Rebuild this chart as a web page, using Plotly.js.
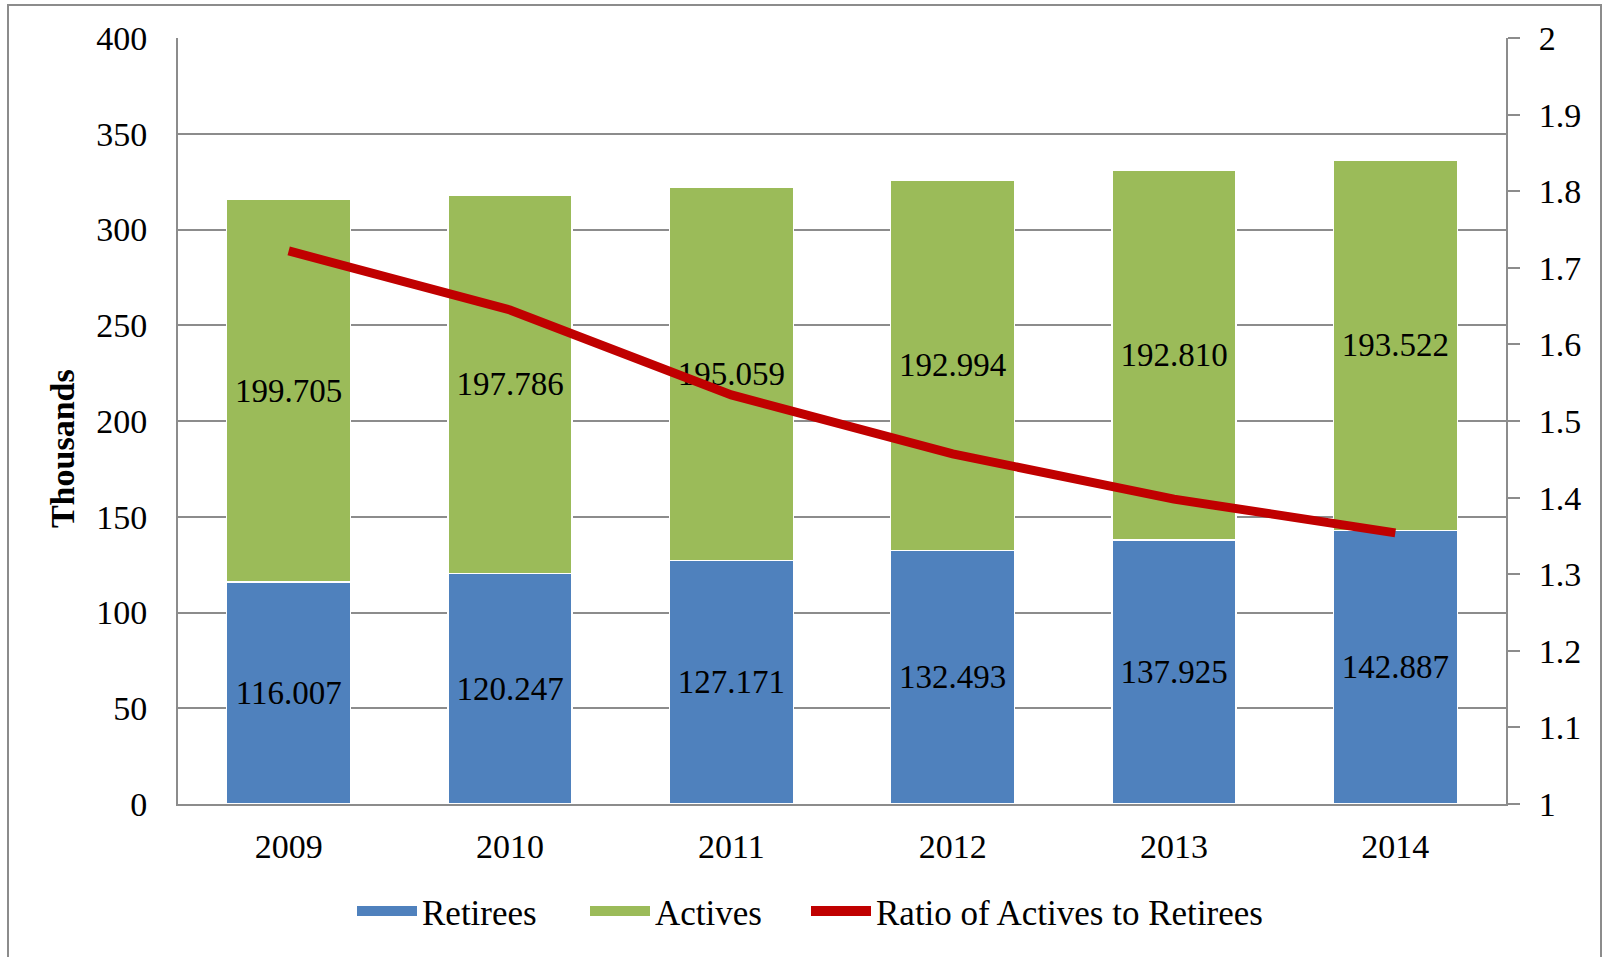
<!DOCTYPE html>
<html>
<head>
<meta charset="utf-8">
<script src="https://cdn.plot.ly/plotly-3.0.1.min.js"></script>
<style>
  html, body { margin: 0; padding: 0; background: #fff; }
  #wrap { position: relative; width: 1604px; height: 957px; overflow: hidden; }
  #chart { position: absolute; left: 0; top: 0; width: 1604px; height: 957px; }
  #frame { position: absolute; left: 7px; top: 4px; width: 1591px; height: 970px;
           border: 2px solid #8c8c8c; pointer-events: none; }
</style>
</head>
<body>
<div id="wrap">
  <div id="chart"></div>
  <div id="frame"></div>
</div>
<script>
// Data (values in thousands)
const years = ['2009', '2010', '2011', '2012', '2013', '2014'];
const retirees = [116.007, 120.247, 127.171, 132.493, 137.925, 142.887];
const actives = [199.705, 197.786, 195.059, 192.994, 192.810, 193.522];
const ratio = [1.722, 1.645, 1.534, 1.457, 1.398, 1.354];
const leftTicks = [0, 50, 100, 150, 200, 250, 300, 350, 400];
const rightTicks = [1, 1.1, 1.2, 1.3, 1.4, 1.5, 1.6, 1.7, 1.8, 1.9, 2];
const rightTickText = ['1', '1.1', '1.2', '1.3', '1.4', '1.5', '1.6', '1.7', '1.8', '1.9', '2'];
const seriesNames = ['Retirees', 'Actives', 'Ratio of Actives to Retirees'];

const FONT = 'Liberation Serif, Times New Roman, serif';
const GRID = '#8c8c8c';
const BLUE = '#4F81BD', GREEN = '#9BBB59', RED = '#C00000';

const traces = [
  {
    type: 'bar', name: seriesNames[0], x: years, y: retirees, legendgroup: 'r', showlegend: false,
    text: retirees.map(v => v.toFixed(3)), textposition: 'inside',
    insidetextanchor: 'middle', constraintext: 'none',
    textfont: { family: FONT, size: 33, color: '#000' },
    marker: { color: BLUE, line: { color: '#ffffff', width: 1.5 } },
    hoverinfo: 'skip'
  },
  {
    type: 'bar', name: seriesNames[1], x: years, y: actives, legendgroup: 'a', showlegend: false,
    text: actives.map(v => v.toFixed(3)), textposition: 'inside',
    insidetextanchor: 'middle', constraintext: 'none',
    textfont: { family: FONT, size: 33, color: '#000' },
    marker: { color: GREEN, line: { color: '#ffffff', width: 1.5 } },
    hoverinfo: 'skip'
  },
  {
    type: 'scatter', mode: 'lines', name: seriesNames[2],
    x: years, y: ratio, yaxis: 'y2', legendgroup: 'q', showlegend: false,
    line: { color: RED, width: 9 },
    hoverinfo: 'skip'
  },
  // legend keys (wide swatches like the original), one legend box each
  { type: 'scatter', mode: 'lines', name: seriesNames[0], legendgroup: 'r', legend: 'legend',
    x: [null], y: [null], line: { color: BLUE, width: 13 }, hoverinfo: 'skip' },
  { type: 'scatter', mode: 'lines', name: seriesNames[1], legendgroup: 'a', legend: 'legend2',
    x: [null], y: [null], line: { color: GREEN, width: 13 }, hoverinfo: 'skip' },
  { type: 'scatter', mode: 'lines', name: seriesNames[2], legendgroup: 'q', legend: 'legend3',
    x: [null], y: [null], yaxis: 'y2', line: { color: RED, width: 10 }, hoverinfo: 'skip' }
];

function legendAt(px) {
  return {
    orientation: 'h', x: (px - 178) / 1328, xanchor: 'left', y: -0.14, yanchor: 'middle',
    font: { family: FONT, size: 35, color: '#000' }, bgcolor: 'rgba(0,0,0,0)',
    itemwidth: 60, itemclick: false, itemdoubleclick: false
  };
}

const layout = {
  width: 1604, height: 957,
  margin: { l: 178, r: 98, t: 38, b: 153 },
  paper_bgcolor: '#ffffff', plot_bgcolor: '#ffffff',
  font: { family: FONT, size: 34, color: '#000' },
  barmode: 'stack', bargap: 0.44,
  showlegend: true,
  legend: legendAt(352),
  legend2: legendAt(585),
  legend3: legendAt(806),
  xaxis: {
    type: 'category', showgrid: false, showline: true, linecolor: GRID, linewidth: 2,
    ticks: 'outside', ticklen: 11, tickcolor: 'rgba(0,0,0,0)',
    tickfont: { family: FONT, size: 34, color: '#000' }, zeroline: false, fixedrange: true
  },
  yaxis: {
    range: [0, 400], tickvals: leftTicks, ticktext: leftTicks.map(String),
    showgrid: true, gridcolor: GRID, gridwidth: 2,
    showline: true, linecolor: GRID, linewidth: 2, zeroline: false,
    ticks: 'outside', ticklen: 22, tickcolor: 'rgba(0,0,0,0)',
    tickfont: { family: FONT, size: 34, color: '#000' },
    fixedrange: true
  },
  yaxis2: {
    overlaying: 'y', side: 'right', range: [1, 2],
    tickvals: rightTicks, ticktext: rightTickText,
    showgrid: false, showline: true, linecolor: GRID, linewidth: 2, zeroline: false,
    ticks: 'outside', ticklen: 12, tickwidth: 2, tickcolor: GRID,
    ticklabelstandoff: 12,
    tickfont: { family: FONT, size: 34, color: '#000' }, fixedrange: true
  },
  annotations: [{
    text: '<b>Thousands</b>', textangle: -90, showarrow: false,
    xref: 'paper', yref: 'paper', x: -0.0873, y: 0.4634,
    xanchor: 'center', yanchor: 'middle',
    font: { family: FONT, size: 34, color: '#000' }
  }]
};

Plotly.newPlot('chart', traces, layout, { displayModeBar: false, staticPlot: true });
</script>
</body>
</html>
